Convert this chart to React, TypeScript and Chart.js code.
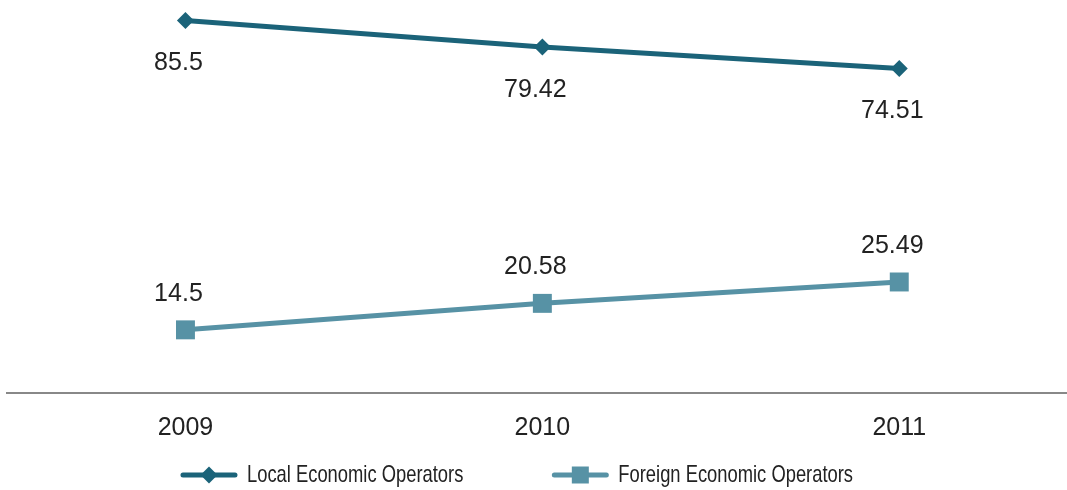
import React, { useEffect, useRef } from "react";
import { Chart, registerables } from "chart.js";

Chart.register(...registerables);

const years = [2009, 2010, 2011];
const localOperators = [85.5, 79.42, 74.51];
const foreignOperators = [14.5, 20.58, 25.49];
const seriesNames = ["Local Economic Operators", "Foreign Economic Operators"];

const LOCAL_COLOR = "#1b6379";
const FOREIGN_COLOR = "#5792a5";
const LABEL_FONT = "25px 'Liberation Sans', Arial, sans-serif";
const LEGEND_FONT = "24px 'Liberation Sans', Arial, sans-serif";
const LEGEND_SQUEEZE = 0.765;

const dataLabelPlugin = {
  id: "dataLabels",
  afterDatasetsDraw(chart: any) {
    const ctx = chart.ctx;
    ctx.save();
    ctx.font = LABEL_FONT;
    ctx.fillStyle = "#222222";
    ctx.textAlign = "center";
    ctx.textBaseline = "middle";
    chart.data.datasets.forEach((ds: any, i: number) => {
      const meta = chart.getDatasetMeta(i);
      meta.data.forEach((pt: any, j: number) => {
        const v = ds.data[j].y;
        const dy = i === 0 ? 43 : -36;
        ctx.fillText(String(v), pt.x - 7, pt.y + dy);
      });
    });
    ctx.restore();
  },
};

function drawMarker(ctx: CanvasRenderingContext2D, style: string, x: number, y: number, size: number, color: string) {
  ctx.fillStyle = color;
  ctx.beginPath();
  if (style === "rectRot") {
    ctx.moveTo(x, y - size);
    ctx.lineTo(x + size, y);
    ctx.lineTo(x, y + size);
    ctx.lineTo(x - size, y);
    ctx.closePath();
  } else {
    ctx.rect(x - size, y - size, size * 2, size * 2);
  }
  ctx.fill();
}

const legendPlugin = {
  id: "customLegend",
  afterDraw(chart: any) {
    const ctx = chart.ctx;
    ctx.save();
    ctx.font = LEGEND_FONT;
    const lineW = 52;
    const gap = 12;
    const itemGap = 91;
    const items = chart.data.datasets.map((ds: any) => ({
      label: ds.label,
      color: ds.borderColor,
      style: ds.pointStyle,
      tw: ctx.measureText(ds.label).width * LEGEND_SQUEEZE,
    }));
    const total = items.reduce((s: number, it: any) => s + lineW + gap + it.tw, 0) + itemGap * (items.length - 1);
    let x = 518 - total / 2;
    const y = 475;
    items.forEach((it: any) => {
      ctx.strokeStyle = it.color;
      ctx.lineWidth = 5;
      ctx.lineCap = "round";
      ctx.beginPath();
      ctx.moveTo(x, y);
      ctx.lineTo(x + lineW, y);
      ctx.stroke();
      drawMarker(ctx, it.style, x + lineW / 2, y, 8.5, it.color);
      ctx.save();
      ctx.fillStyle = "#222222";
      ctx.textAlign = "left";
      ctx.textBaseline = "middle";
      ctx.translate(x + lineW + gap, y);
      ctx.scale(LEGEND_SQUEEZE, 1);
      ctx.fillText(it.label, 0, 0);
      ctx.restore();
      x += lineW + gap + it.tw + itemGap;
    });
    ctx.restore();
  },
};

export default function App() {
  const ref = useRef<HTMLCanvasElement>(null);
  useEffect(() => {
    if (!ref.current) return;
    const chart = new Chart(ref.current, {
      type: "line",
      data: {
        datasets: [
          {
            label: seriesNames[0],
            data: years.map((y, i) => ({ x: y, y: localOperators[i] })),
            borderColor: LOCAL_COLOR,
            backgroundColor: LOCAL_COLOR,
            borderWidth: 5,
            pointStyle: "rectRot",
            pointRadius: 8.5,
            pointBorderWidth: 0,
            tension: 0,
          },
          {
            label: seriesNames[1],
            data: years.map((y, i) => ({ x: y, y: foreignOperators[i] })),
            borderColor: FOREIGN_COLOR,
            backgroundColor: FOREIGN_COLOR,
            borderWidth: 5,
            pointStyle: "rect",
            pointRadius: 13.4,
            pointBorderWidth: 0,
            tension: 0,
          },
        ],
      },
      options: {
        animation: false,
        responsive: false,
        layout: { autoPadding: false, padding: { left: 7, right: 0, top: 1, bottom: 27 } },
        plugins: { legend: { display: false }, tooltip: { enabled: false } },
        scales: {
          x: {
            type: "linear",
            min: 2008.5,
            max: 2011.47,
            afterBuildTicks: (axis: any) => {
              axis.ticks = years.map((v) => ({ value: v }));
            },
            ticks: {
              callback: (v: any) => String(v),
              font: { family: "'Liberation Sans', Arial, sans-serif", size: 25 },
              color: "#222222",
              padding: 20,
              maxRotation: 0,
              autoSkip: false,
            },
            grid: { display: false, drawTicks: false },
            border: { display: true, color: "#888888", width: 2 },
          },
          y: {
            display: false,
            min: 0,
            max: 90,
          },
        },
      },
      plugins: [dataLabelPlugin, legendPlugin],
    } as any);
    return () => chart.destroy();
  }, []);
  return (
    <div style={{ position: "absolute", left: 0, top: 0, width: 1067, height: 490, background: "#fff" }}>
      <canvas ref={ref} width={1067} height={490} style={{ width: 1067, height: 490 }} />
    </div>
  );
}
